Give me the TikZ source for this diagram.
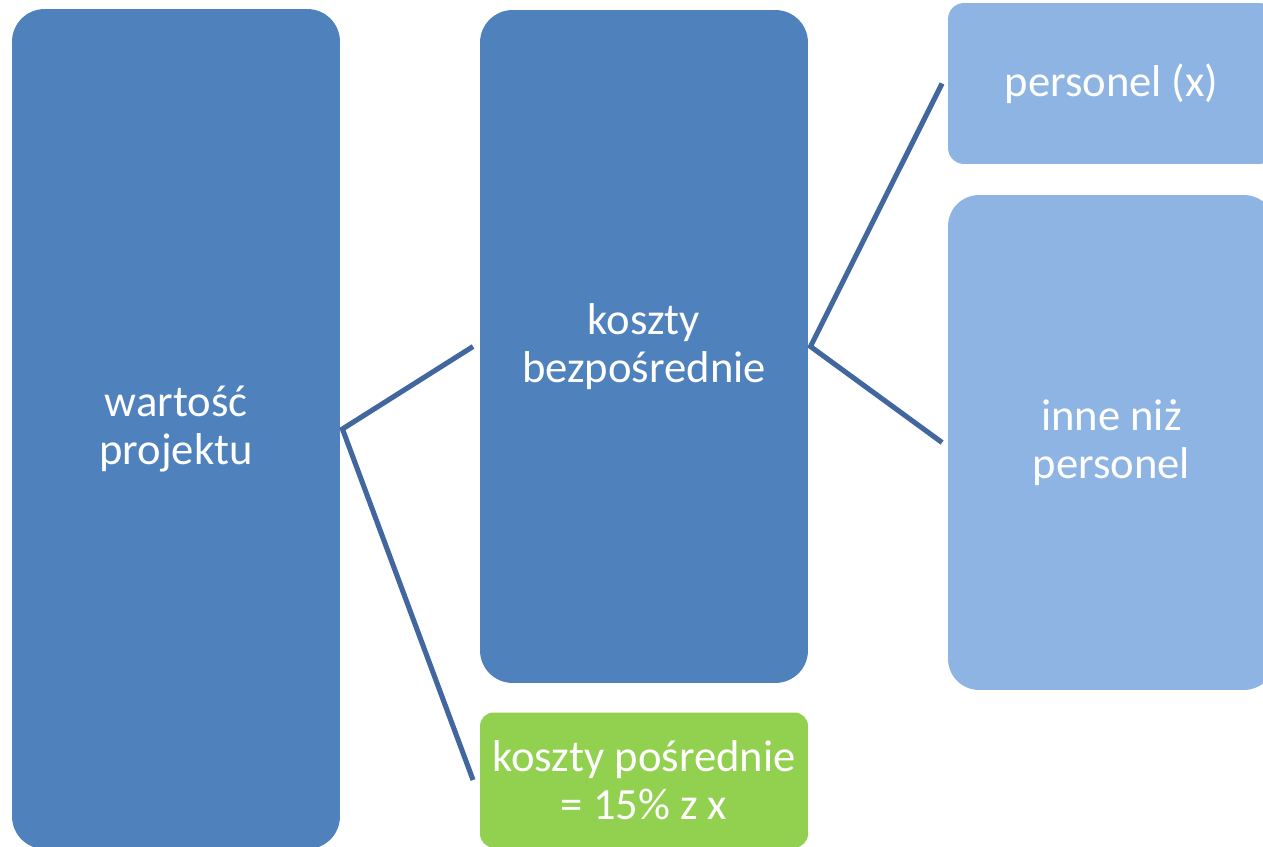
\documentclass[tikz,border=0pt]{standalone}
\usepackage{fontspec}
\setmainfont{Carlito}
\usepackage{xcolor}
\usepackage{tikz}
\definecolor{darkbox}{HTML}{4F81BD}
\definecolor{lightbox}{HTML}{8EB4E3}
\definecolor{greenbox}{HTML}{92D050}
\definecolor{linkblue}{HTML}{41679E}
\tikzstyle{box}=[rectangle, inner sep=0pt, outer sep=0pt, text=white, align=center, font=\fontsize{25.4}{27.3}\selectfont, minimum width=6.56cm]
\tikzstyle{link}=[draw=linkblue, line width=2.9pt]

\begin{document}
\begin{tikzpicture}[x=0.02cm, y=-0.02cm]
\useasboundingbox (0,0) rectangle (1263,847);
\clip (0,0) rectangle (1263,847);

% Boxes
\node[box, fill=darkbox, minimum height=16.8cm, rounded corners=0.65cm] (wp) at (176,429) {wartość\\projektu};
\node[box, fill=darkbox, minimum height=13.46cm, rounded corners=0.65cm] (kb) at (644,346.5) {koszty\\bezpośrednie};
\node[box, fill=greenbox, minimum height=2.7cm, rounded corners=0.27cm] (kp) at (644,780) {koszty pośrednie\\= 15\% z x};
\node[box, fill=lightbox, minimum width=6.54cm, minimum height=3.22cm, rounded corners=0.32cm] (per) at (1111.5,83.5) {personel (x)};
\node[box, fill=lightbox, minimum width=6.54cm, minimum height=9.9cm, rounded corners=0.62cm] (inn) at (1111.5,442.5) {inne niż\\personel};

% Connectors
\draw[link] ([xshift=-0.14cm]kb.west) -- ([xshift=0.05cm]wp.east) -- ([xshift=-0.14cm]kp.west);
\draw[link] ([xshift=-0.12cm]per.west) -- ([xshift=0.05cm]kb.east) -- ([xshift=-0.12cm]inn.west);

\end{tikzpicture}
\end{document}
